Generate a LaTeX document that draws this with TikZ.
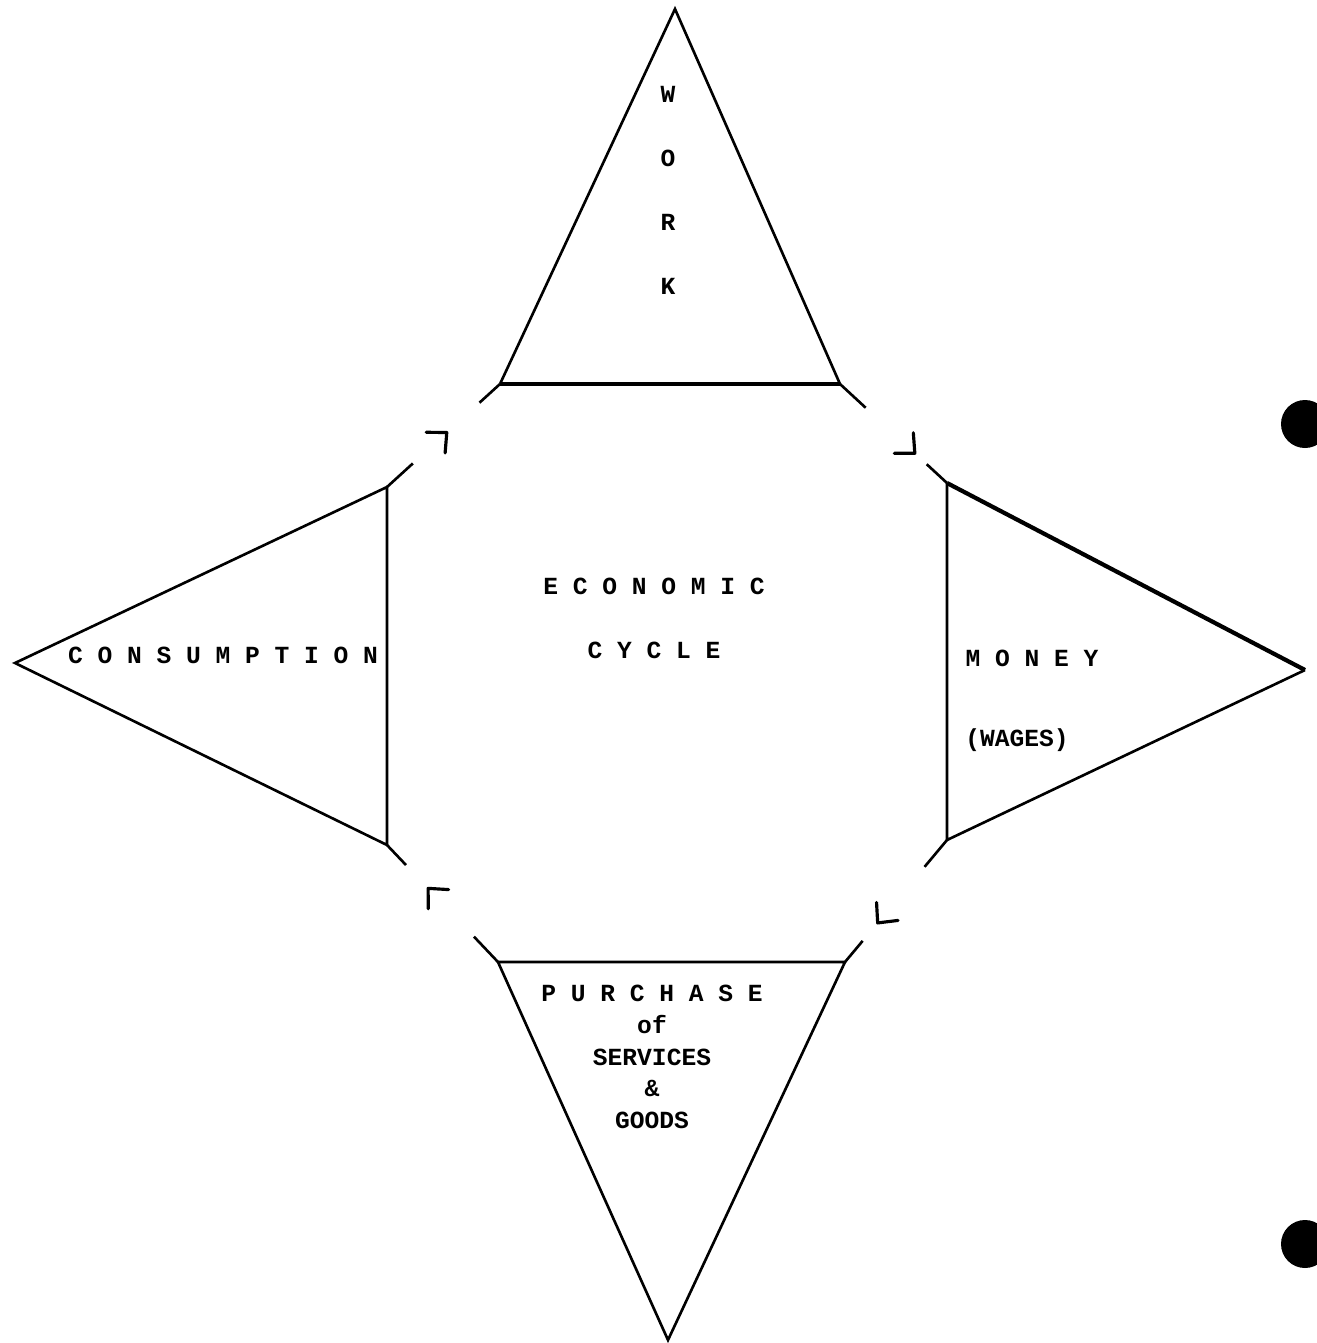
\documentclass[tikz,border=0pt]{standalone}
\usepackage{fontspec}
\setmonofont{Liberation Mono}
\usepackage{tikz}
\usetikzlibrary{decorations.markings}

\begin{document}
\begin{tikzpicture}[
    x=0.02cm, y=-0.02cm,
    tri/.style={line width=1.5pt, line join=miter},
    lbl/.style={font=\ttfamily\bfseries\fontsize{14}{18}\selectfont, inner sep=0pt, align=center},
    cyc/.style={postaction={decorate}, decoration={markings,
        mark=at position 0 with {\draw[line width=1.5pt] (0pt,0pt) -- (0.7cm,0pt);},
        mark=at position #1 with {\draw[line width=1.8pt, line cap=round, line join=round]
            (-0.3cm,0.28cm) -- (0pt,0pt) -- (-0.3cm,-0.28cm);},
        mark=at position 1 with {\draw[line width=1.5pt] (0pt,0pt) -- (-0.55cm,0pt);}}}
]
    \useasboundingbox (0,0) rectangle (1316,1343);

    % corners of the four triangles
    \coordinate (workA) at (675,9);
    \coordinate (workL) at (500,384);
    \coordinate (workR) at (840,384);
    \coordinate (moneyT) at (947,483);
    \coordinate (moneyB) at (947,840);
    \coordinate (moneyA) at (1305,670);
    \coordinate (purL) at (498,962);
    \coordinate (purR) at (845,962);
    \coordinate (purA) at (668,1340);
    \coordinate (consT) at (387,487);
    \coordinate (consB) at (387,845);
    \coordinate (consA) at (15,663);

    \draw[tri] (workL) -- (workA) -- (workR);
    \draw[tri, line width=2.2pt] (workL) -- (workR);
    \draw[tri] (moneyT) -- (moneyB) -- (moneyA);
    \draw[tri, line width=2.4pt] (moneyT) -- (moneyA);
    \draw[tri] (purL) -- (purR) -- (purA) -- cycle;
    \draw[tri] (consT) -- (consB) -- (consA) -- cycle;

    % the cycle
    \path[cyc=0.53] (consT) -- (workL);
    \path[cyc=0.7] (workR) -- (moneyT);
    \path[cyc=0.68] (moneyB) -- (purR);
    \path[cyc=0.63] (purL) -- (consB);

    \node[lbl, font=\ttfamily\bfseries\fontsize{14}{36.4}\selectfont] (work) at (668,190) {W\\O\\R\\K};
    \node[lbl] (money) at (1032,658) {M O N E Y};
    \node[lbl] (wages) at (1017,740) {(WAGES)};
    \node[lbl] (purchase) at (652,1057) {P U R C H A S E\\of\\SERVICES\\\&\\GOODS};
    \node[lbl] (consumption) at (223,655) {C O N S U M P T I O N};
    \node[lbl, font=\ttfamily\bfseries\fontsize{14}{36.4}\selectfont] (econ) at (654,618) {E C O N O M I C\\C Y C L E};

    % punch holes of the scanned page
    \fill (1305,424) circle[radius=24];
    \fill (1305,1244) circle[radius=24];
\end{tikzpicture}
\end{document}
